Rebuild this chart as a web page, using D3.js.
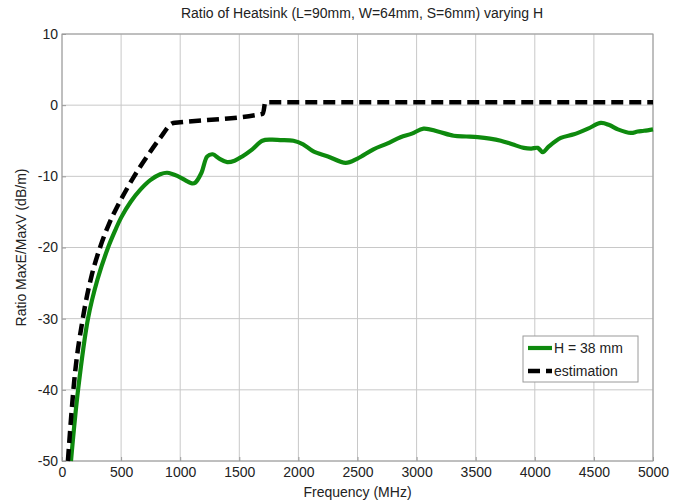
<!DOCTYPE html>
<meta charset="utf-8">
<style>
body { margin: 0; background: #fff; }
svg text { font-family: "Liberation Sans", Arial, sans-serif; fill: #222; }
.grid line { stroke: #c8c8c8; stroke-width: 1; }
.axis path, .axis line { stroke: #9a9a9a; }
</style>
<body>
<svg id="chart"></svg>
<script src="https://cdnjs.cloudflare.com/ajax/libs/d3/7.8.5/d3.min.js"></script>
<script>
// green measured curve, H = 38 mm
var freqH38 = [76, 136, 220, 300, 390, 450, 500, 580, 661, 750, 831, 890, 983, 1060, 1100, 1127, 1180, 1229, 1275, 1330, 1398, 1460, 1525, 1610, 1695, 1770, 1847, 1958, 2040, 2127, 2250, 2400, 2500, 2635, 2750, 2864, 2960, 3059, 3180, 3314, 3420, 3517, 3620, 3712, 3810, 3907, 3970, 4025, 4068, 4119, 4220, 4331, 4450, 4559, 4630, 4703, 4813, 4870, 4924, 5000];
var ratioH38 = [-50, -40, -30, -24.5, -20, -17.6, -15.8, -13.6, -11.9, -10.5, -9.7, -9.5, -10, -10.7, -11, -10.9, -9.5, -7.2, -6.9, -7.5, -8.0, -7.8, -7.2, -6.2, -5.0, -4.85, -4.9, -5.0, -5.5, -6.5, -7.2, -8.1, -7.5, -6.2, -5.4, -4.5, -4.0, -3.3, -3.7, -4.3, -4.4, -4.5, -4.7, -5.0, -5.5, -6.0, -6.1, -6.0, -6.6, -5.8, -4.6, -4.1, -3.3, -2.5, -2.8, -3.4, -3.9, -3.7, -3.6, -3.4];

// dashed estimation
var freqEst = [50, 102, 178, 250, 322, 400, 466, 534, 610, 720, 831, 941, 1000, 1700, 1720, 5000];
var ratioEst = [-50, -39, -29.8, -24, -20, -16.6, -14.3, -12.2, -10, -7.2, -4.6, -2.5, -2.4, -1.2, 0.4, 0.4];

var xTicks = [0, 500, 1000, 1500, 2000, 2500, 3000, 3500, 4000, 4500, 5000];
var yTicks = [-50, -40, -30, -20, -10, 0, 10];
var seriesNames = ["H = 38 mm", "estimation"];

var width = 687, height = 501;
var margin = {top: 34, right: 34, bottom: 40, left: 62};
var plotW = width - margin.left - margin.right;
var plotH = height - margin.top - margin.bottom;

var svg = d3.select("#chart").attr("width", width).attr("height", height);
var g = svg.append("g").attr("transform", "translate(" + margin.left + "," + margin.top + ")");

var x = d3.scaleLinear().domain([0, 5000]).range([0, plotW]);
var y = d3.scaleLinear().domain([-50, 10]).range([plotH, 0]);

// grid
g.append("g").attr("class", "grid").selectAll("line.v")
  .data(xTicks).enter().append("line")
  .attr("x1", d => x(d)).attr("x2", d => x(d))
  .attr("y1", 0).attr("y2", plotH);
g.append("g").attr("class", "grid").selectAll("line.h")
  .data(yTicks).enter().append("line")
  .attr("x1", 0).attr("x2", plotW)
  .attr("y1", d => y(d)).attr("y2", d => y(d));

// axes, ticks pointing in like matlab
var plain = d => String(d);
g.append("g").attr("class", "axis")
  .attr("transform", "translate(0," + plotH + ")")
  .call(d3.axisBottom(x).tickValues(xTicks).tickFormat(plain).tickSizeInner(-4).tickSizeOuter(0).tickPadding(6));
g.append("g").attr("class", "axis")
  .call(d3.axisLeft(y).tickValues(yTicks).tickFormat(plain).tickSizeInner(-4).tickSizeOuter(0).tickPadding(4));
g.selectAll(".axis text").style("font-size", "14px").attr("fill", "#222");
g.selectAll(".axis .domain").remove();

// box
g.append("rect").attr("width", plotW).attr("height", plotH)
  .attr("fill", "none").attr("stroke", "#9a9a9a");

var lineH38 = d3.line()
  .x((d, i) => x(freqH38[i])).y(d => y(d))
  .curve(d3.curveCatmullRom.alpha(0.5));
var lineEst = d3.line()
  .x((d, i) => x(freqEst[i])).y(d => y(d))
  .curve(d3.curveMonotoneX);

g.append("path").datum(ratioH38)
  .attr("d", lineH38)
  .attr("fill", "none").attr("stroke", "#0e8a0e").attr("stroke-width", 4.2)
  .attr("stroke-linejoin", "round");

g.append("path").datum(ratioEst)
  .attr("d", lineEst)
  .attr("fill", "none").attr("stroke", "#000").attr("stroke-width", 4.5)
  .attr("stroke-dasharray", "12,6");

// title and labels
svg.append("text").attr("x", 362).attr("y", 18).attr("text-anchor", "middle")
  .style("font-size", "14px").text("Ratio of Heatsink (L=90mm, W=64mm, S=6mm) varying H");
svg.append("text").attr("x", margin.left + plotW / 2).attr("y", 497).attr("text-anchor", "middle")
  .style("font-size", "14px").text("Frequency (MHz)");
svg.append("text").attr("transform", "translate(26," + (margin.top + plotH / 2) + ") rotate(-90)")
  .attr("text-anchor", "middle").style("font-size", "14px").text("Ratio MaxE/MaxV (dB/m)");

// legend
var leg = svg.append("g").attr("transform", "translate(523,336)");
leg.append("rect").attr("width", 115).attr("height", 46)
  .attr("fill", "#fff").attr("stroke", "#9a9a9a");
leg.append("line").attr("x1", 5).attr("x2", 29).attr("y1", 12).attr("y2", 12)
  .attr("stroke", "#0e8a0e").attr("stroke-width", 4.2);
leg.append("line").attr("x1", 5).attr("x2", 29).attr("y1", 35).attr("y2", 35)
  .attr("stroke", "#000").attr("stroke-width", 4.5).attr("stroke-dasharray", "12,6");
leg.selectAll("text.lbl").data(seriesNames).enter().append("text")
  .attr("x", 31).attr("y", (d, i) => 17 + i * 23)
  .style("font-size", "14px").text(d => d);
</script>
</body>
